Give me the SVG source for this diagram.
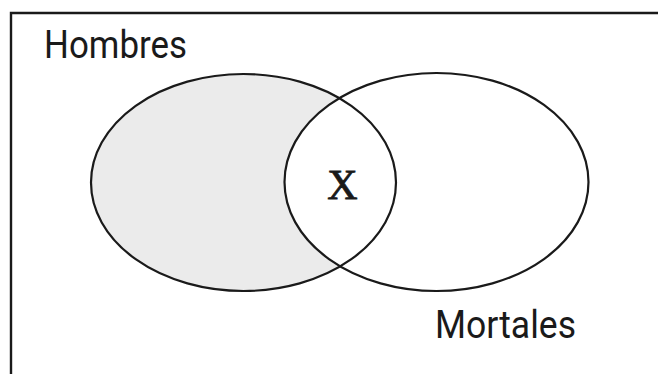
<svg xmlns="http://www.w3.org/2000/svg" width="658" height="374" viewBox="0 0 658 374">
<style>
.e{fill:none;stroke:#1a1a1a;stroke-width:2.2}
.lbl{font-family:Roboto,"Liberation Sans",sans-serif;font-size:39px;fill:#1a1a1a}
.x{font-family:"Liberation Serif",serif;font-size:42px;fill:#1a1a1a;stroke:#1a1a1a;stroke-width:0.8}
</style>
<defs>
<clipPath id="notRight">
<path d="M0 0H658V374H0Z M284.5 182a152 109 0 1 0 304 0a152 109 0 1 0 -304 0Z" clip-rule="evenodd"/>
</clipPath>
</defs>
<rect width="658" height="374" fill="#fff"/>
<g id="frame"><path d="M11 376V13H662" fill="none" stroke="#1a1a1a" stroke-width="2.4"/></g>
<g id="hombres">
<ellipse cx="243.5" cy="182.5" rx="152.5" ry="108.5" fill="#ebebeb" clip-path="url(#notRight)"/>
<ellipse class="e" cx="243.5" cy="182.5" rx="152.5" ry="108.5"/>
<text class="lbl" x="44" y="58" textLength="143" lengthAdjust="spacingAndGlyphs">Hombres</text>
</g>
<g id="mortales">
<ellipse class="e" cx="436.5" cy="182" rx="152" ry="109"/>
<text class="lbl" x="435" y="338" textLength="141" lengthAdjust="spacingAndGlyphs">Mortales</text>
</g>
<g id="x"><text class="x" x="342.5" y="199" text-anchor="middle">X</text></g>
<g id="connectors"/>
</svg>
